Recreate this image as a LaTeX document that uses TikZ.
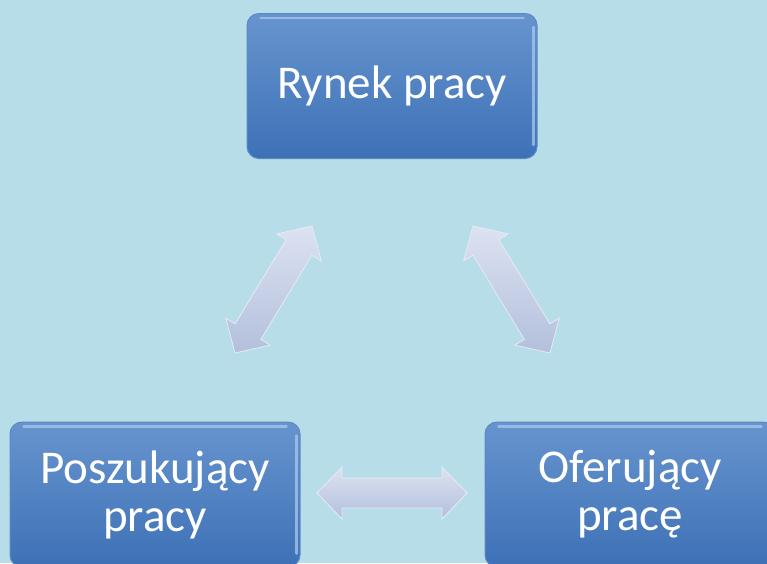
\documentclass[tikz,border=0pt]{standalone}
\usepackage{fontspec}
\setmainfont{Carlito}
\usetikzlibrary{calc}
\definecolor{bg}{HTML}{B7DEE8}
\definecolor{boxtop}{HTML}{6794CE}
\definecolor{boxbot}{HTML}{3D71B6}
\definecolor{boxedge}{HTML}{5C89C4}
\definecolor{boxhi}{HTML}{A9C8EE}
\definecolor{arrlight}{HTML}{DCE2F1}
\definecolor{arrdark}{HTML}{B3BFDC}
\definecolor{arredge}{HTML}{E6EAF5}
\tikzset{
  box/.style={rounded corners=12pt, minimum width=290pt, minimum height=145pt,
    top color=boxtop, bottom color=boxbot, draw=boxedge, line width=1pt,
    text=white, font=\fontsize{47}{48}\selectfont, align=center, inner sep=0pt},
  boxshine/.style={boxhi, line width=2.5pt, line cap=round, opacity=.75},
  arrowfill/.style={top color=arrlight, bottom color=arrdark, draw=arredge, line width=0.8pt, line join=miter}
}
\newcommand{\dblarrow}[2]{%
  \path[arrowfill] (#1)
    -- ($(#1)!25pt!(#2)!26pt!90:(#2)$)
    -- ($(#1)!25pt!(#2)!15pt!90:(#2)$)
    -- ($(#2)!25pt!(#1)!15pt!-90:(#1)$)
    -- ($(#2)!25pt!(#1)!26pt!-90:(#1)$)
    -- (#2)
    -- ($(#2)!25pt!(#1)!26pt!90:(#1)$)
    -- ($(#2)!25pt!(#1)!15pt!90:(#1)$)
    -- ($(#1)!25pt!(#2)!15pt!-90:(#2)$)
    -- ($(#1)!25pt!(#2)!26pt!-90:(#2)$)
    -- cycle;}
\newcommand{\boxshine}[1]{%
  \draw[boxshine] ($(#1.north west)+(14,5)$) -- ($(#1.north east)+(-14,5)$);
  \draw[boxshine] ($(#1.north east)+(-4,14)$) -- ($(#1.south east)+(-4,-14)$);}
\begin{document}
\begin{tikzpicture}[x=1pt,y=-1pt]
  \useasboundingbox (0,0) rectangle (767,563);
  \clip (0,0) rectangle (767,563);
  \fill[bg] (0,0) rectangle (767,563);
  \node[box] (market) at (392,86) {Rynek pracy};
  \node[box] (seeker) at (155,494.5) {Poszukujący\\pracy};
  \node[box] (offer) at (630,494.5) {Oferujący\\pracę};
  \boxshine{market}
  \boxshine{seeker}
  \boxshine{offer}
  \coordinate (l1) at (235,353);
  \coordinate (l2) at (312,226);
  \coordinate (r1) at (473,226);
  \coordinate (r2) at (550,353);
  \coordinate (h1) at (317,493);
  \coordinate (h2) at (467,493);
  \dblarrow{l1}{l2}
  \dblarrow{r1}{r2}
  \dblarrow{h1}{h2}
\end{tikzpicture}
\end{document}
